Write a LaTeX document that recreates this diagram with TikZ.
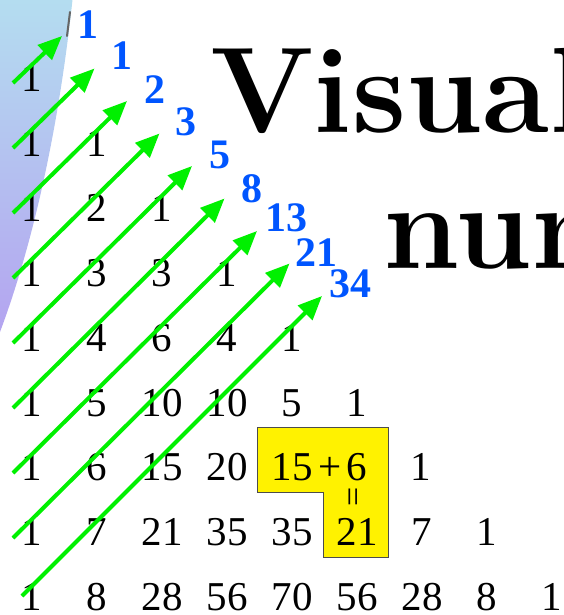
\documentclass[tikz,border=0pt]{standalone}
\usepackage{fontspec}
\newfontfamily\numfont{Liberation Serif}
\usetikzlibrary{arrows.meta}
\definecolor{fibblue}{RGB}{0,85,255}
\definecolor{arrgreen}{RGB}{0,240,0}
\definecolor{blobtop}{RGB}{180,222,240}
\definecolor{blobmid}{RGB}{196,206,244}
\definecolor{blobbot}{RGB}{180,164,240}
\begin{document}
\begin{tikzpicture}[x=1pt,y=-1pt,
  num/.style={font=\numfont\fontsize{41}{41}\selectfont, anchor=base, inner sep=0pt},
  eqsign/.style={font=\numfont\fontsize{34}{34}\selectfont, inner sep=0pt},
  fib/.style={font=\numfont\bfseries\fontsize{42}{42}\selectfont, text=fibblue, inner sep=0pt},
  arr/.style={draw=arrgreen, line width=4pt, -{Triangle[length=24pt,width=20pt]}},
  titletext/.style={font=\bfseries\fontsize{122}{122}\selectfont, anchor=base west, inner sep=0pt},
  hilite/.style={fill=yellow, draw=black!70, line width=0.8pt}]
\useasboundingbox (0,0) rectangle (564,615);
\clip (0,0) rectangle (564,615);
% background blob
\shade[top color=blobtop, middle color=blobmid, bottom color=blobbot]
  (0,-5) -- (73,-5) .. controls (62,100) and (40,225) .. (0,332) -- cycle;
\draw[black!60, line width=2pt, line cap=round] (70,12) -- (67,36);
% title
\node[titletext] (t1) at (210,132) {Visual};
\node[titletext] (t2) at (383,268) {num};
% highlight
\path[hilite] (257,427) -- (388,427) -- (388,557) -- (323,557) -- (323,492) -- (257,492) -- cycle;
% Pascal triangle rows
\foreach \r/\vals in {0/{1},1/{1,1},2/{1,2,1},3/{1,3,3,1},4/{1,4,6,4,1},
                      5/{1,5,10,10,5,1},8/{1,8,28,56,70,56,28,8,1}}{
  \foreach \v [count=\c from 0] in \vals {
    \node[num] (n-\r-\c) at ({32+65*\c},{92+64.8*\r}) {\v};
  }
}
\foreach \v [count=\c from 0] in {1,6,15,20}{
  \node[num] (n-6-\c) at ({32+65*\c},{92+64.8*6}) {\v};
}
\node[num] (n-6-4) at (292,{92+64.8*6}) {15};
\node[num] (plus) at (330,{92+64.8*6}) {+};
\node[num] (n-6-5) at (357,{92+64.8*6}) {6};
\node[num] (n-6-6) at (421,{92+64.8*6}) {1};
\foreach \v [count=\c from 0] in {1,7,21,35,35,21,7,1}{
  \node[num] (n-7-\c) at ({32+65*\c},{92+64.8*7}) {\v};
}
\node[eqsign] (eq) at (357,497) {\rotatebox{90}{=}};
% Fibonacci labels
\foreach \v/\x/\y [count=\i from 0] in {1/88/25,1/122/56,2/155/90,3/186/122,5/220/155,8/252/189,13/286/218,21/316/253,34/350/284}{
  \node[fib] (f\i) at (\x,\y) {\v};
}
% arrows
\foreach \k in {0,...,7}{
  \coordinate (s\k) at (13,{83+65*\k});
  \coordinate (e\k) at ({62+32.5*\k},{36+32.5*\k});
  \draw[arr] (s\k) -- (e\k);
}
\coordinate (s8) at (22,596);
\coordinate (e8) at (322,296);
\draw[arr] (s8) -- (e8);
\end{tikzpicture}
\end{document}
